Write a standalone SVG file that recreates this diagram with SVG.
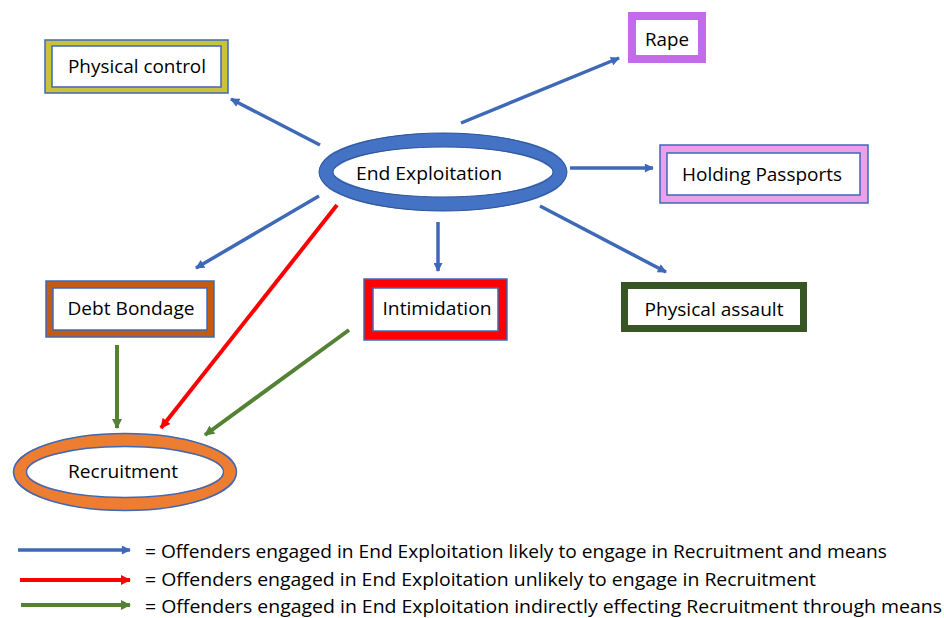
<svg xmlns="http://www.w3.org/2000/svg" width="944" height="618" viewBox="0 0 944 618">
<defs>
<style>
.t{font-family:"Open Sans","Noto Sans","Liberation Sans",sans-serif;font-size:18.5px;fill:#000;text-anchor:middle;dominant-baseline:central}
.lg{font-family:"Open Sans","Noto Sans","Liberation Sans",sans-serif;font-size:18px;fill:#000;dominant-baseline:central}
.ol{fill:none;stroke:#3E69B8;stroke-width:1.5}
.in{fill:#fff;stroke:#3E69B8;stroke-width:1.5}
.b{stroke:#3E69B8;stroke-width:3.5;fill:none}
.r{stroke:#FF0000;stroke-width:4;fill:none}
.g{stroke:#548235;stroke-width:4;fill:none}
</style>
<marker id="ab" viewBox="0 0 10 10" refX="9" refY="5" markerWidth="10" markerHeight="9" markerUnits="userSpaceOnUse" orient="auto"><path d="M0,0 L10,5 L0,10 Z" fill="#3E69B8"/></marker>
<marker id="ar" viewBox="0 0 10 10" refX="9" refY="5" markerWidth="11" markerHeight="10" markerUnits="userSpaceOnUse" orient="auto"><path d="M0,0 L10,5 L0,10 Z" fill="#FF0000"/></marker>
<marker id="ag" viewBox="0 0 10 10" refX="9" refY="5" markerWidth="11" markerHeight="10" markerUnits="userSpaceOnUse" orient="auto"><path d="M0,0 L10,5 L0,10 Z" fill="#548235"/></marker>
</defs>
<rect width="944" height="618" fill="#fff"/>

<g id="connectors">
<line class="b" x1="320" y1="145" x2="231" y2="99" marker-end="url(#ab)"/>
<line class="b" x1="461" y1="123" x2="619" y2="58" marker-end="url(#ab)"/>
<line class="b" x1="570" y1="168" x2="653" y2="168" marker-end="url(#ab)"/>
<line class="b" x1="540" y1="206" x2="666" y2="272" marker-end="url(#ab)"/>
<line class="b" x1="438" y1="222" x2="438" y2="271" marker-end="url(#ab)"/>
<line class="b" x1="319" y1="196" x2="196" y2="268" marker-end="url(#ab)"/>
<line class="r" x1="337" y1="205" x2="161" y2="428" marker-end="url(#ar)"/>
<line class="g" x1="349" y1="330" x2="205" y2="435" marker-end="url(#ag)"/>
<line class="g" x1="117" y1="345" x2="117" y2="428" marker-end="url(#ag)"/>
</g>

<g id="physical-control">
<rect x="45" y="40" width="183" height="53" fill="#C9C33A"/>
<rect class="ol" x="45" y="40" width="183" height="53"/>
<rect class="in" x="52" y="46" width="169" height="41"/>
<text class="t" x="137" y="65" textLength="138" lengthAdjust="spacingAndGlyphs">Physical control</text>
</g>

<g id="rape">
<rect x="628" y="12" width="78" height="51" fill="#C36BEA"/>
<rect x="636" y="20" width="62" height="35" fill="#fff"/>
<text class="t" x="667" y="38" textLength="44" lengthAdjust="spacingAndGlyphs">Rape</text>
</g>

<g id="end-exploitation">
<ellipse cx="443" cy="172" rx="117" ry="32" fill="#fff" stroke="#4472C4" stroke-width="14"/>
<ellipse cx="443" cy="172" rx="124" ry="39" fill="none" stroke="#2F5597" stroke-width="1"/>
<ellipse cx="443" cy="172" rx="110" ry="25" fill="none" stroke="#2F5597" stroke-width="1"/>
<text class="t" x="429" y="172" textLength="146" lengthAdjust="spacingAndGlyphs">End Exploitation</text>
</g>

<g id="holding-passports">
<rect x="660" y="145" width="208" height="58" fill="#EE9FE9"/>
<rect class="ol" x="660" y="145" width="208" height="58"/>
<rect class="in" x="667" y="153" width="193" height="42"/>
<text class="t" x="762" y="173" textLength="160" lengthAdjust="spacingAndGlyphs">Holding Passports</text>
</g>

<g id="debt-bondage">
<rect x="46" y="281" width="168" height="56" fill="#C55A11"/>
<rect class="ol" x="46" y="281" width="168" height="56"/>
<rect class="in" x="53" y="288" width="154" height="42"/>
<text class="t" x="131" y="307" textLength="127" lengthAdjust="spacingAndGlyphs">Debt Bondage</text>
</g>

<g id="intimidation">
<rect x="364" y="279" width="143" height="61" fill="#FF0000"/>
<rect class="ol" x="364" y="279" width="143" height="61"/>
<rect class="in" x="373" y="288" width="125" height="43"/>
<text class="t" x="437" y="307" textLength="109" lengthAdjust="spacingAndGlyphs">Intimidation</text>
</g>

<g id="physical-assault">
<rect x="621" y="282" width="186" height="50" fill="#375623"/>
<rect x="628" y="289" width="172" height="36" fill="#fff"/>
<text class="t" x="714" y="308" textLength="139" lengthAdjust="spacingAndGlyphs">Physical assault</text>
</g>

<g id="recruitment">
<ellipse cx="125" cy="472" rx="105" ry="32" fill="#fff" stroke="#ED7D31" stroke-width="13"/>
<ellipse class="ol" cx="125" cy="472" rx="111.5" ry="38.5"/>
<ellipse class="ol" cx="125" cy="472" rx="98.5" ry="25.5"/>
<text class="t" x="123" y="470" textLength="110" lengthAdjust="spacingAndGlyphs">Recruitment</text>
</g>

<g id="legend">
<line class="b" x1="18" y1="550" x2="130" y2="550" stroke-width="4" marker-end="url(#ab)"/>
<line class="r" x1="20" y1="580" x2="130" y2="580" marker-end="url(#ar)"/>
<line class="g" x1="21" y1="605" x2="130" y2="605" marker-end="url(#ag)"/>
<text class="lg" x="145" y="551" textLength="742" lengthAdjust="spacingAndGlyphs">= Offenders engaged in End Exploitation likely to engage in Recruitment and means</text>
<text class="lg" x="145" y="579" textLength="671" lengthAdjust="spacingAndGlyphs">= Offenders engaged in End Exploitation unlikely to engage in Recruitment</text>
<text class="lg" x="145" y="606" textLength="797" lengthAdjust="spacingAndGlyphs">= Offenders engaged in End Exploitation indirectly effecting Recruitment through means</text>
</g>
</svg>
